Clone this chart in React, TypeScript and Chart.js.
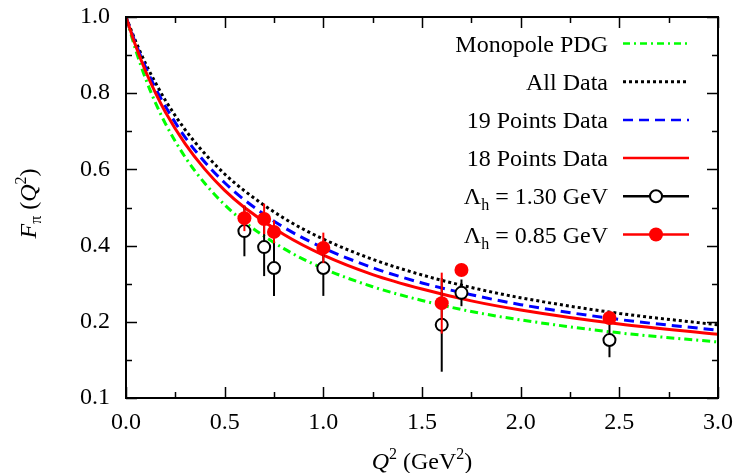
import React, { useEffect, useRef } from "react";
import { Chart, registerables } from "chart.js";
Chart.register(...registerables);

// Q^2 grid for the fitted curves (GeV^2)
const qGrid = [0, 0.05, 0.1, 0.15, 0.2, 0.3, 0.4, 0.5, 0.6, 0.8, 1.0, 1.25, 1.5, 1.75, 2.0, 2.5, 3.0];
const monopolePDG = [1, 0.912, 0.837, 0.774, 0.72, 0.632, 0.563, 0.507, 0.462, 0.392, 0.34, 0.292, 0.256, 0.227, 0.205, 0.171, 0.147];
const allData = [1, 0.935, 0.877, 0.827, 0.781, 0.704, 0.641, 0.588, 0.544, 0.472, 0.417, 0.364, 0.323, 0.29, 0.263, 0.222, 0.192];
const points19 = [1, 0.929, 0.867, 0.8125, 0.765, 0.684, 0.619, 0.565, 0.52, 0.448, 0.394, 0.342, 0.302, 0.271, 0.245, 0.206, 0.178];
const points18 = [1, 0.923, 0.857, 0.8, 0.75, 0.667, 0.6, 0.545, 0.5, 0.429, 0.375, 0.324, 0.286, 0.255, 0.231, 0.194, 0.167];

// Data points
const q2Points = [0.6, 0.7, 0.75, 1.0, 1.6, 1.7, 2.45];
const fLambda130 = [0.438, 0.396, 0.341, 0.341, 0.192, 0.276, 0.152];
const errLambda130 = [0.066, 0.076, 0.073, 0.073, 0.123, 0.035, 0.045];
const fLambda085 = [0.472, 0.47, 0.436, 0.394, 0.249, 0.336, 0.21];
const errLambda085 = [0.034, 0.04, 0.03, 0.04, 0.08, 0, 0];

const xTicks = [0, 0.5, 1.0, 1.5, 2.0, 2.5, 3.0];
const yTickLabels: Record<string, string> = { "0": "0.1", "0.2": "0.2", "0.4": "0.4", "0.6": "0.6", "0.8": "0.8", "1": "1.0" };

const SERIF = '"Liberation Serif", "Times New Roman", serif';
const GREEN = "#00ff00";
const BLUE = "#0000ff";
const RED = "#ff0000";

type Seg = { t: string; font: string; dy?: number };
function drawRich(ctx: CanvasRenderingContext2D, segs: Seg[], x: number, y: number, align: "left" | "center" | "right") {
  let w = 0;
  for (const s of segs) {
    ctx.font = s.font;
    w += ctx.measureText(s.t).width;
  }
  let cx = align === "center" ? x - w / 2 : align === "right" ? x - w : x;
  ctx.textAlign = "left";
  ctx.textBaseline = "alphabetic";
  for (const s of segs) {
    ctx.font = s.font;
    ctx.fillText(s.t, cx, y + (s.dy || 0));
    cx += ctx.measureText(s.t).width;
  }
}

const errorBars = {
  id: "errorBars",
  beforeDatasetDraw(chart: any, args: any) {
    const ds = chart.data.datasets[args.index];
    if (!ds.errors) return;
    const ctx = chart.ctx;
    const xs = chart.scales.x;
    const ys = chart.scales.y;
    ctx.save();
    ctx.strokeStyle = ds.borderColor;
    ctx.lineWidth = 2;
    ds.data.forEach((p: any, i: number) => {
      const e = ds.errors[i];
      if (!e) return;
      const px = xs.getPixelForValue(p.x);
      ctx.beginPath();
      ctx.moveTo(px, ys.getPixelForValue(p.y - e));
      ctx.lineTo(px, ys.getPixelForValue(p.y + e));
      ctx.stroke();
    });
    ctx.restore();
  },
};

const frameAndDecor = {
  id: "frameAndDecor",
  afterDraw(chart: any) {
    const ctx: CanvasRenderingContext2D = chart.ctx;
    const { left, right, top, bottom } = chart.chartArea;
    const xs = chart.scales.x;
    const ys = chart.scales.y;
    ctx.save();
    ctx.strokeStyle = "#000";
    ctx.lineWidth = 2;
    ctx.setLineDash([]);
    ctx.strokeRect(left, top, right - left, bottom - top);
    ctx.lineWidth = 1.5;
    // x ticks
    for (let i = 0; i <= 12; i++) {
      const v = i * 0.25;
      const px = Math.round(xs.getPixelForValue(v)) + 0.5;
      const len = i % 2 === 0 ? 11 : 6;
      ctx.beginPath();
      ctx.moveTo(px, bottom);
      ctx.lineTo(px, bottom - len);
      ctx.moveTo(px, top);
      ctx.lineTo(px, top + len);
      ctx.stroke();
    }
    // y ticks
    for (let i = 0; i <= 10; i++) {
      const v = i * 0.1;
      const py = Math.round(ys.getPixelForValue(v)) + 0.5;
      const len = i % 2 === 0 ? 11 : 6;
      ctx.beginPath();
      ctx.moveTo(left, py);
      ctx.lineTo(left + len, py);
      ctx.moveTo(right, py);
      ctx.lineTo(right - len, py);
      ctx.stroke();
    }

    // Axis titles
    ctx.fillStyle = "#000";
    const big = `24px ${SERIF}`;
    const bigI = `italic 24px ${SERIF}`;
    const small = `16px ${SERIF}`;
    drawRich(
      ctx,
      [
        { t: "Q", font: bigI },
        { t: "2", font: small, dy: -10 },
        { t: " (GeV", font: big },
        { t: "2", font: small, dy: -10 },
        { t: ")", font: big },
      ],
      (left + right) / 2,
      469,
      "center"
    );
    ctx.save();
    ctx.translate(36, (top + bottom) / 2 - 4);
    ctx.rotate(-Math.PI / 2);
    drawRich(
      ctx,
      [
        { t: "F", font: bigI },
        { t: "π", font: small, dy: 5 },
        { t: " (", font: big },
        { t: "Q", font: bigI },
        { t: "2", font: small, dy: -10 },
        { t: ")", font: big },
      ],
      0,
      0,
      "center"
    );
    ctx.restore();

    // Legend
    const textRight = 608;
    const sx0 = 623;
    const sx1 = 689;
    const mx = 656;
    const rows = [
      { segs: [{ t: "Monopole PDG", font: big }], color: GREEN, dash: [7, 4, 2, 4], marker: "" },
      { segs: [{ t: "All Data", font: big }], color: "#000", dash: [3, 3], marker: "" },
      { segs: [{ t: "19 Points Data", font: big }], color: BLUE, dash: [10, 6], marker: "" },
      { segs: [{ t: "18 Points Data", font: big }], color: RED, dash: [], marker: "" },
      {
        segs: [
          { t: "Λ", font: big },
          { t: "h", font: small, dy: 6 },
          { t: " = 1.30 GeV", font: big },
        ],
        color: "#000",
        dash: [],
        marker: "open",
      },
      {
        segs: [
          { t: "Λ", font: big },
          { t: "h", font: small, dy: 6 },
          { t: " = 0.85 GeV", font: big },
        ],
        color: RED,
        dash: [],
        marker: "filled",
      },
    ];
    rows.forEach((r, i) => {
      const cy = 43.5 + i * 38.2;
      ctx.fillStyle = "#000";
      drawRich(ctx, r.segs as Seg[], textRight, cy + 8, "right");
      ctx.strokeStyle = r.color;
      ctx.lineWidth = i === 1 ? 3 : 2.5;
      ctx.setLineDash(r.dash);
      ctx.beginPath();
      ctx.moveTo(sx0, cy);
      ctx.lineTo(sx1, cy);
      ctx.stroke();
      ctx.setLineDash([]);
      if (r.marker === "open") {
        ctx.beginPath();
        ctx.arc(mx, cy, 6, 0, Math.PI * 2);
        ctx.fillStyle = "#fff";
        ctx.fill();
        ctx.lineWidth = 2;
        ctx.strokeStyle = "#000";
        ctx.stroke();
      } else if (r.marker === "filled") {
        ctx.beginPath();
        ctx.arc(mx, cy, 7, 0, Math.PI * 2);
        ctx.fillStyle = RED;
        ctx.fill();
      }
    });
    ctx.restore();
  },
};

function curve(values: number[]) {
  return qGrid.map((q, i) => ({ x: q, y: values[i] }));
}

export default function App() {
  const ref = useRef<HTMLCanvasElement>(null);
  useEffect(() => {
    document.body.style.margin = "0";
    const canvas = ref.current!;
    const chart = new Chart(canvas, {
      type: "line",
      data: {
        datasets: [
          {
            label: "Λh = 0.85 GeV",
            data: q2Points.map((q, i) => ({ x: q, y: fLambda085[i] })),
            showLine: false,
            pointRadius: 7,
            pointBackgroundColor: RED,
            pointBorderColor: RED,
            pointBorderWidth: 0,
            borderColor: RED,
            errors: errLambda085,
            order: 0,
          } as any,
          {
            label: "Λh = 1.30 GeV",
            data: q2Points.map((q, i) => ({ x: q, y: fLambda130[i] })),
            showLine: false,
            pointRadius: 6,
            pointBackgroundColor: "#fff",
            pointBorderColor: "#000",
            pointBorderWidth: 2,
            borderColor: "#000",
            errors: errLambda130,
            order: 1,
          } as any,
          {
            label: "18 Points Data",
            data: curve(points18),
            borderColor: RED,
            borderWidth: 3,
            pointRadius: 0,
            cubicInterpolationMode: "monotone",
            order: 2,
          },
          {
            label: "19 Points Data",
            data: curve(points19),
            borderColor: BLUE,
            borderWidth: 3,
            borderDash: [10, 6],
            pointRadius: 0,
            cubicInterpolationMode: "monotone",
            order: 3,
          },
          {
            label: "All Data",
            data: curve(allData),
            borderColor: "#000",
            borderWidth: 3,
            borderDash: [3, 3],
            pointRadius: 0,
            cubicInterpolationMode: "monotone",
            order: 4,
          },
          {
            label: "Monopole PDG",
            data: curve(monopolePDG),
            borderColor: GREEN,
            borderWidth: 3,
            borderDash: [8, 4, 2, 4],
            pointRadius: 0,
            cubicInterpolationMode: "monotone",
            order: 5,
          },
        ],
      },
      options: {
        animation: false,
        responsive: false,
        devicePixelRatio: 1,
        layout: { padding: { top: 17, right: 20, left: 0, bottom: 0 } },
        plugins: { legend: { display: false }, tooltip: { enabled: false } },
        scales: {
          x: {
            type: "linear",
            min: 0,
            max: 3,
            grid: { display: false, drawTicks: false },
            border: { display: false },
            afterFit: (s: any) => {
              s.height = 75;
              s.paddingLeft = 0;
              s.paddingRight = 0;
              s.paddingTop = 0;
              s.paddingBottom = 0;
            },
            afterBuildTicks: (s: any) => {
              s.ticks = xTicks.map((v) => ({ value: v }));
            },
            ticks: {
              color: "#000",
              padding: 10,
              maxRotation: 0,
              font: { family: SERIF, size: 24 },
              callback: (v: any) => Number(v).toFixed(1),
            },
          },
          y: {
            type: "linear",
            min: 0,
            max: 1,
            grid: { display: false, drawTicks: false },
            border: { display: false },
            afterFit: (s: any) => {
              s.width = 126;
              s.paddingLeft = 0;
              s.paddingRight = 0;
              s.paddingTop = 0;
              s.paddingBottom = 0;
            },
            ticks: {
              color: "#000",
              padding: 16,
              stepSize: 0.2,
              font: { family: SERIF, size: 24 },
              callback: (v: any) => yTickLabels[String(Math.round(Number(v) * 10) / 10)] ?? "",
            },
          },
        },
      },
      plugins: [errorBars, frameAndDecor],
    });
    return () => chart.destroy();
  }, []);
  return <canvas ref={ref} width={738} height={473} style={{ display: "block" }} />;
}
